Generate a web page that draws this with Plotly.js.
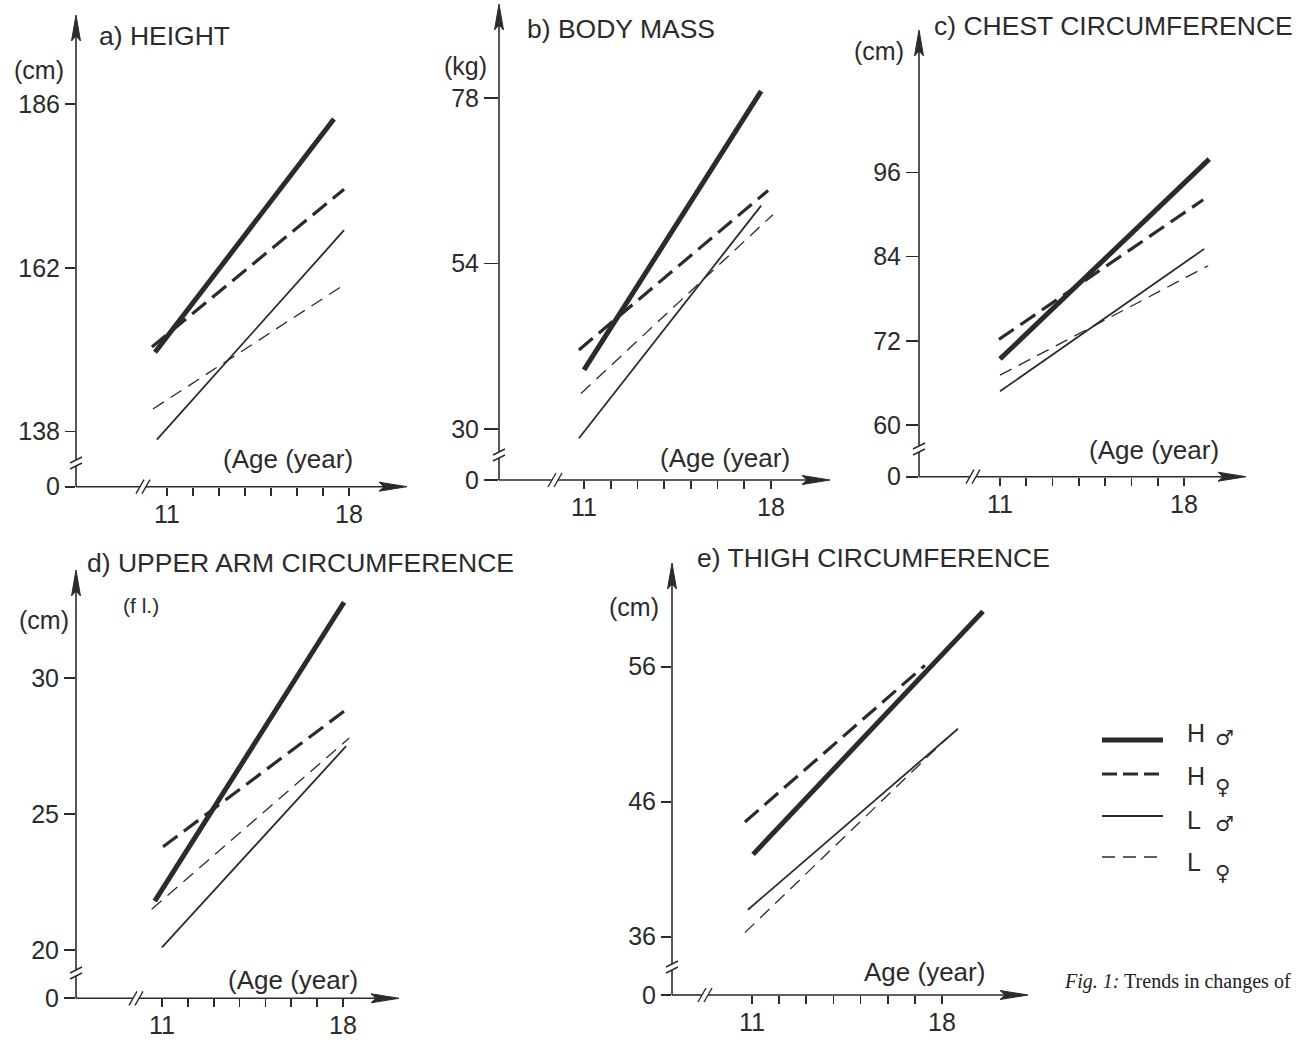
<!DOCTYPE html>
<html><head><meta charset="utf-8">
<script src="https://cdn.plot.ly/plotly-3.0.1.min.js"></script>
<style>html,body{margin:0;padding:0;background:#fff;}</style>
</head><body><div id="chart" style="width:1299px;height:1040px"></div>
<script>
// ---------------- data ----------------
const seriesGroup = ['H','H','L','L'];
const seriesSex = ['\u2642','\u2640','\u2642','\u2640'];
const panelTitles = ['a) HEIGHT','b) BODY MASS','c) CHEST CIRCUMFERENCE','d) UPPER ARM CIRCUMFERENCE','e) THIGH CIRCUMFERENCE'];
const panelUnits = ['(cm)','(kg)','(cm)','(cm)','(cm)'];
const panelXTitles = ['(Age (year)','(Age (year)','(Age (year)','(Age (year)','Age (year)'];
const armNote = '(f l.)';
const ageTicks = [11,12,13,14,15,16,17,18];
const ageTickLabels = ['11','','','','','','','18'];
const breakLabel = '0';

const heightTicks = [138,162,186];
const massTicks = [30,54,78];
const chestTicks = [60,72,84,96];
const armTicks = [20,25,30];
const thighTicks = [36,46,56];

// each row: [start age, end age] / [start value, end value] for H♂, H♀, L♂, L♀
const heightAges   = [[10.54,17.42],[10.42,17.81],[10.61,17.81],[10.46,17.69]];
const heightValues = [[149.6,183.8],[150.4,173.5],[136.8,167.5],[141.3,159.2]];
const massAges     = [[11.00,17.63],[10.81,17.89],[10.81,17.63],[10.89,18.07]];
const massValues   = [[38.6,79.0],[41.5,64.6],[28.7,62.4],[35.2,61.1]];
const chestAges    = [[11.00,18.96],[10.96,18.73],[11.00,18.77],[11.00,18.92]];
const chestValues  = [[69.4,97.9],[72.2,92.1],[64.8,85.1],[67.1,82.7]];
const armAges      = [[10.72,18.04],[11.04,18.20],[11.00,18.12],[10.60,18.24]];
const armValues    = [[21.8,32.8],[23.8,28.9],[20.1,27.5],[21.5,27.8]];
const thighAges    = [[11.04,19.51],[10.74,17.37],[10.85,18.59],[10.74,18.18]];
const thighValues  = [[42.1,60.1],[44.5,56.1],[38.0,51.4],[36.3,50.7]];

// ---------------- styles / geometry ----------------
const W = 1299, H = 1040;
const INK = '#2b2b2b';
const FONT = 'Liberation Sans, Arial, Helvetica, sans-serif';
const seriesStyle = [
  {color:INK, width:5,   dash:'solid'},
  {color:INK, width:3.2, dash:'18px,8px'},
  {color:INK, width:1.8, dash:'solid'},
  {color:INK, width:1.3, dash:'13px,8px'}
];
const panelAges = [heightAges, massAges, chestAges, armAges, thighAges];
const panelValues = [heightValues, massValues, chestValues, armValues, thighValues];
const panelTicks = [heightTicks, massTicks, chestTicks, armTicks, thighTicks];

// pixel geometry of each panel (axis origin, arrow tips, calibration pixels, breaks, text spots)
const geom = [
  {ax:76,  ay:486.7, top:15,  right:407,  x11:167,  x18:349, yLoPx:431.5, yHiPx:104,   xBrk:143, yBrk:463, tl:10,
   title:[97,36],  unit:[12,70],  xt:[221,459]},
  {ax:499, ay:480,   top:4,   right:830,  x11:584,  x18:771, yLoPx:429.3, yHiPx:98,    xBrk:555, yBrk:455, tl:14,
   title:[525,29], unit:[442,66], xt:[658,458]},
  {ax:919, ay:476.7, top:30,  right:1246, x11:1000, x18:1184, yLoPx:425,   yHiPx:172.4, xBrk:973, yBrk:449, tl:12,
   title:[932,26], unit:[852,51], xt:[1087,450]},
  {ax:76,  ay:998.3, top:570, right:399,  x11:162,  x18:343, yLoPx:950,   yHiPx:678.3, xBrk:136, yBrk:973, tl:11,
   title:[85,563], unit:[17,620], xt:[226,980]},
  {ax:672, ay:995,   top:563, right:1028, x11:752,  x18:942, yLoPx:936.7, yHiPx:666.7, xBrk:705, yBrk:967, tl:10,
   title:[695,558],unit:[607,607],xt:[862,972]}
];

const px = x => x / W;
const py = y => 1 - y / H;
const P = (x, y) => px(x) + ',' + py(y);

const traces = [];
const shapes = [];
const annotations = [];
const layout = {
  width: W, height: H, margin:{l:0,r:0,t:0,b:0},
  paper_bgcolor:'#ffffff', plot_bgcolor:'rgba(0,0,0,0)',
  showlegend:false, font:{family:FONT, color:INK, size:24}
};

function seg(x0,y0,x1,y1,w){
  shapes.push({type:'line', xref:'paper', yref:'paper', x0:px(x0), y0:py(y0), x1:px(x1), y1:py(y1),
               line:{color:INK, width:w||1.6}});
}
function text(t, x, y, size, extra){
  annotations.push(Object.assign({text:t, xref:'paper', yref:'paper', x:px(x), y:py(y), xanchor:'left', yanchor:'middle',
    showarrow:false, font:{family:FONT, size:size||24, color:INK}}, extra||{}));
}

geom.forEach((g, p) => {
  const s = p === 0 ? '' : String(p + 1);
  const ticks = panelTicks[p];
  const vLo = ticks[0], vHi = ticks[ticks.length-1];
  const kx = (g.x18 - g.x11) / 7;
  const ky = (g.yLoPx - g.yHiPx) / (vHi - vLo);
  const xmin = 11 + (g.ax - g.x11) / kx, xmax = 11 + (g.right - g.x11) / kx;
  const ymin = vLo - (g.ay - g.yLoPx) / ky, ymax = vLo + (g.yLoPx - g.top) / ky;
  const eps = (ymax - ymin) * 1e-6;

  layout['xaxis' + s] = {
    domain:[px(g.ax), px(g.right)], range:[xmin, xmax], anchor:'y' + s,
    showline:false, showgrid:false, zeroline:false, fixedrange:true,
    ticks:'outside', ticklen:8, tickwidth:1.6, tickcolor:INK,
    tickmode:'array', tickvals:ageTicks, ticktext:ageTickLabels,
    tickfont:{family:FONT, size:25, color:INK}, ticklabelstandoff:-3
  };
  layout['yaxis' + s] = {
    domain:[py(g.ay), py(g.top)], range:[ymin, ymax], anchor:'x' + s,
    showline:false, showgrid:false, zeroline:false, fixedrange:true,
    ticks:'outside', ticklen:g.tl, tickwidth:1.6, tickcolor:INK,
    tickmode:'array', tickvals:[ymin + eps].concat(ticks), ticktext:[breakLabel].concat(ticks.map(String)),
    tickfont:{family:FONT, size:25, color:INK}, ticklabelstandoff:0
  };

  // series lines
  panelAges[p].forEach((ages, i) => {
    traces.push({x:ages, y:panelValues[p][i], mode:'lines', line:seriesStyle[i],
      xaxis:'x' + s, yaxis:'y' + s, hoverinfo:'skip', showlegend:false});
  });

  // y axis with break and arrow
  seg(g.ax, g.ay, g.ax, g.yBrk + 3);
  seg(g.ax, g.yBrk - 3, g.ax, g.top + 18);
  [-3, 3].forEach(d => seg(g.ax - 6, g.yBrk + d + 3, g.ax + 6, g.yBrk + d - 3, 1.4));
  shapes.push({type:'path', xref:'paper', yref:'paper', fillcolor:INK, line:{color:INK, width:1},
    path:'M' + P(g.ax, g.top) + ' L' + P(g.ax - 4.5, g.top + 26) + ' L' + P(g.ax, g.top + 21) + ' L' + P(g.ax + 4.5, g.top + 26) + ' Z'});
  // x axis with break and arrow
  seg(g.ax, g.ay, g.xBrk - 3, g.ay);
  seg(g.xBrk + 3, g.ay, g.right - 18, g.ay);
  [-3, 3].forEach(d => seg(g.xBrk + d - 4, g.ay + 7, g.xBrk + d + 4, g.ay - 7, 1.4));
  shapes.push({type:'path', xref:'paper', yref:'paper', fillcolor:INK, line:{color:INK, width:1},
    path:'M' + P(g.right, g.ay) + ' L' + P(g.right - 28, g.ay - 4.5) + ' L' + P(g.right - 23, g.ay) + ' L' + P(g.right - 28, g.ay + 4.5) + ' Z'});

  text(panelTitles[p], g.title[0], g.title[1], 26.5);
  text(panelUnits[p], g.unit[0], g.unit[1], 25);
  text(panelXTitles[p], g.xt[0], g.xt[1], 26);
});
text(armNote, 121, 605, 21);

// legend (drawn from series styles)
const legRowY = [740, 774, 816, 857];
const legTextY = [733, 776, 820, 862];
const legSymY = [738, 787, 824, 873];
seriesStyle.forEach((st, i) => {
  shapes.push({type:'line', xref:'paper', yref:'paper', x0:px(1102), x1:px(1163), y0:py(legRowY[i]), y1:py(legRowY[i]),
    line:{color:st.color, width:st.width, dash:i === 1 ? '15px,6px' : (i === 3 ? '13px,8px' : st.dash)}});
  text(seriesGroup[i], 1185, legTextY[i], 25);
  text(seriesSex[i], 1213, legSymY[i], 22, {font:{family:'DejaVu Sans, sans-serif', size:21, color:INK}});
});

// caption
text('<i>Fig. 1:</i> Trends in changes of', 1062, 981, 20, {font:{family:'Liberation Serif, Times New Roman, serif', size:20, color:'#222'}});

layout.shapes = shapes;
layout.annotations = annotations;
Plotly.newPlot('chart', traces, layout, {staticPlot:true, displayModeBar:false});
</script>
</body></html>
